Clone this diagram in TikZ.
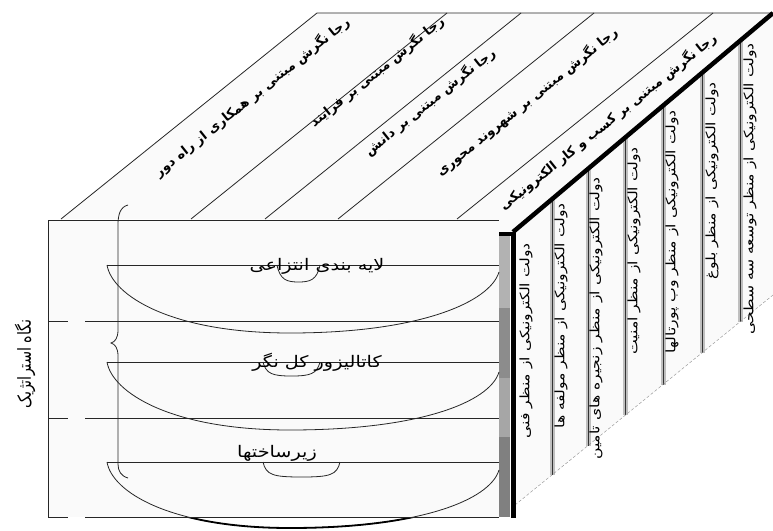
\documentclass[tikz,border=0pt]{standalone}
\usepackage{fontspec}
\usepackage{tikz}
\TeXXeTstate=1
\newfontfamily\farsifont[Script=Arabic]{DejaVu Sans}

\tikzset{
  toplabel/.style={font=\farsifont\bfseries\fontsize{13}{13}\selectfont, rotate=38.7, inner sep=0pt},
  sidelabel/.style={font=\farsifont\fontsize{13}{13}\selectfont, rotate=90, xscale=1.2, anchor=east, inner sep=0pt},
  layerlabel/.style={font=\farsifont\fontsize{16}{16}\selectfont, xscale=1.2, inner sep=0pt},
  thinline/.style={line width=0.8pt, black!85},
  divider/.style={line width=0.8pt, black!80}
}

\begin{document}
\begin{tikzpicture}[x=1pt,y=-1pt]
      \useasboundingbox (0,0) rectangle (773,530);
      % 1. corners of the box
      \coordinate (A) at (48,220);
      \coordinate (B) at (499,220);
      \coordinate (C) at (499,517);
      \coordinate (D) at (48,517);
      \coordinate (E) at (61,219);
      \coordinate (F) at (317,13);
      \coordinate (G) at (773,13);
      \coordinate (H) at (513,232);
      \coordinate (K) at (773,295);
      \coordinate (L) at (515,505);

      % 2. faces
      \fill[black!2] (E) -- (F) -- (G) -- (H) -- (499,232) -- (B) -- cycle;
      \fill[black!2] (H) -- (G) -- (K) -- (L) -- (513,517) -- cycle;
      \fill[black!2] (A) rectangle (C);

      % 3. strips of the top face
      \foreach \x in {191,265,338,457}
        \draw[thinline] (\x,219) -- ++(256,-206);
      \draw[thinline] (E) -- (F) -- (G);

      % 4. strips of the side face
      \foreach \x [evaluate=\x as \yt using 232-(\x-513)*0.8456,
                   evaluate=\x as \yb using 505-(\x-515)*0.814] in {552,588,625,663,702,740} {
        \draw[black!25, line width=5pt] (\x,\yt) -- (\x,\yb);
        \draw[divider] (\x,\yt) -- (\x,\yb);
      }
      \draw[black!45, densely dashed] (L) -- (K);

      % 5. front face
      \draw[thinline] (A) -- (B);
      \draw[thinline] (A) -- (D);
      \foreach \y in {321,418,517} {
        \draw[thinline] (48,\y) -- (68,\y);
        \draw[thinline] (85,\y) -- (499,\y);
      }

      % 6. the edge between front and side
      \fill[black!30] (499,236) rectangle (510,308);
      \fill[black!45] (499,308) rectangle (510,378);
      \fill[black!35] (499,378) rectangle (510,437);
      \fill[black!50] (499,437) rectangle (510,517);
      \draw[line width=4.5pt] (499,234) -- (513,234);
      \draw[line width=5pt] (513,232) -- (513,518);
      \draw[line width=4.5pt] (H) -- (G);

      % 7. layers and their lens curves
      \foreach \t/\b/\r in {265/333/272, 362/430/372, 462/528/470} {
        \draw[thinline] (107,\t) -- (499,\t);
        \draw[thinline] (107,\t) .. controls (112,\t+30) and (170,\b) .. (290,\b)
                               .. controls (420,\b) and (490,\r+30) .. (499,\r);
      }
      \begin{scope}
        \clip (0,518) rectangle (773,530);
        \draw[line width=1.8pt] (107,462) .. controls (112,492) and (170,528) .. (290,528)
                               .. controls (420,528) and (490,500) .. (499,470);
      \end{scope}
      \foreach \a/\c/\t/\d in {277/320/265/282, 263/320/362/376, 263/340/462/477}
        \draw[thinline] (\a,\t) .. controls (\a+3,\d-2) and (\a+10,\d) .. ({(\a+\c)/2},\d)
                               .. controls (\c-10,\d) and (\c-3,\d-2) .. (\c,\t);

      % 8. brace
      \draw[thinline] (128,205) .. controls (120,207) and (118,215) .. (118,225) -- (118,330)
        .. controls (118,338) and (115,342) .. (111,343)
        .. controls (115,344) and (118,348) .. (118,356) -- (118,464)
        .. controls (118,471) and (121,476) .. (128,478);

      % 9. labels
      \node[layerlabel] (lay1) at (317,266) {\beginR لایه بندی انتزاعی\endR};
      \node[layerlabel] (lay2) at (317,362) {\beginR کاتالیزور کل نگر\endR};
      \node[layerlabel] (lay3) at (277,453) {\beginR زیرساختها\endR};
      \node[layerlabel, rotate=90, xscale=0.96, font=\farsifont\fontsize{15}{15}\selectfont] (view) at (25,364) {\beginR نگاه استراتژیک\endR};

      \node[toplabel] (top1) at (252,97) {\beginR رجا نگرش مبتنی بر همکاری از راه دور\endR};
      \node[toplabel] (top2) at (377,72) {\beginR رجا نگرش مبتنی بر فرایند\endR};
      \node[toplabel] (top3) at (430,102) {\beginR رجا نگرش مبتنی بر دانش\endR};
      \node[toplabel] (top4) at (527,102) {\beginR رجا نگرش مبتنی بر شهروند محوری\endR};
      \node[toplabel] (top5) at (608,122) {\beginR رجا نگرش مبتنی بر کسب و کار الکترونیکی\endR};

      \node[sidelabel] (side1) at (526,243) {\beginR دولت الکترونیکی از منظر فنی\endR};
      \node[sidelabel] (side2) at (561,203) {\beginR دولت الکترونیکی از منظر مولفه ها\endR};
      \node[sidelabel] (side3) at (596,177) {\beginR دولت الکترونیکی از منظر زنجیره های تامین\endR};
      \node[sidelabel] (side4) at (634,147) {\beginR دولت الکترونیکی از منظر امنیت\endR};
      \node[sidelabel] (side5) at (672,110) {\beginR دولت الکترونیکی از منظر وب پورتالها\endR};
      \node[sidelabel] (side6) at (712,82) {\beginR دولت الکترونیکی از منظر بلوغ\endR};
      \node[sidelabel] (side7) at (750,43) {\beginR دولت الکترونیکی از منظر توسعه سه سطحی\endR};
\end{tikzpicture}
\end{document}
